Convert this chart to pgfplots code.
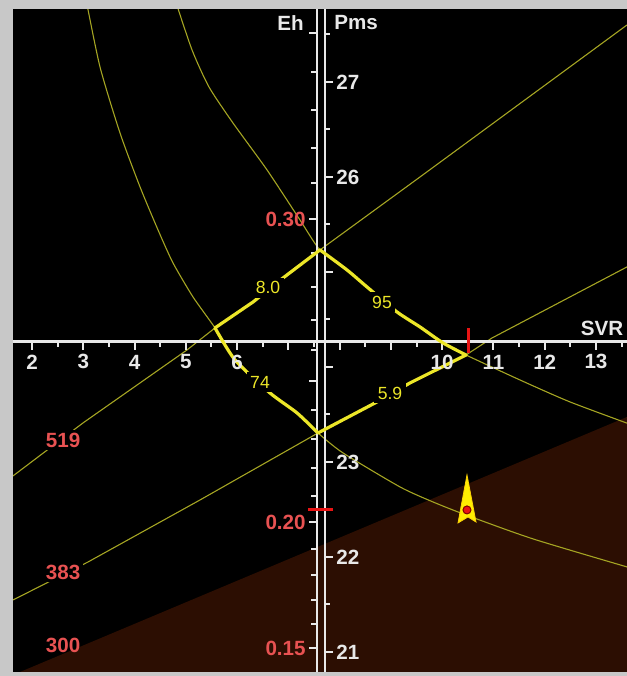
\documentclass[border=0pt]{standalone}
\usepackage{pgfplots}
\pgfplotsset{compat=1.18}
\usepackage{fontspec}
\setmainfont{Liberation Sans}
\definecolor{bordergray}{RGB}{200,200,200}
\definecolor{brownfill}{RGB}{44,14,2}
\definecolor{thinyel}{RGB}{165,165,35}
\definecolor{diayel}{RGB}{236,230,40}
\definecolor{ehred}{RGB}{232,82,82}
\definecolor{axwhite}{RGB}{232,232,232}
\definecolor{mkred}{RGB}{232,20,20}
\tikzset{
  lbl/.style={font=\fontsize{10.3}{12}\selectfont\bfseries, text=axwhite, inner sep=0pt},
  rlbl/.style={font=\fontsize{10.3}{12}\selectfont\bfseries, text=ehred, inner sep=0pt},
  dlbl/.style={font=\fontsize{8.8}{10}\selectfont, text=diayel, fill=black, inner sep=1.8pt},
}
\begin{document}
\begin{tikzpicture}
\fill[bordergray] (-6.5pt,-2pt) rectangle (307pt,336pt);
\begin{axis}[
  scale only axis, width=307pt, height=331.5pt,
  xmin=1.629, xmax=13.605, ymin=20.789, ymax=27.768,
  axis background/.style={fill=black},
  axis line style={draw=none},
  xtick=\empty, ytick=\empty,
]
% brown region
\addplot[draw=none, fill=brownfill] coordinates {(1.629,20.758) (13.605,23.474) (13.605,20.6) (1.629,20.6)} --cycle;
% thin iso-curves
\addplot[thinyel, line width=0.55pt, smooth, tension=0.4] coordinates {(3.06,27.85)(3.326,27.158)(3.716,26.463)(4.107,25.895)(4.458,25.442)(4.750,25.095)(5.140,24.737)(5.569,24.411)(5.959,24.074)(6.642,23.726)(7.169,23.516)(7.578,23.305)(8.066,23.095)(9.178,22.737)(9.821,22.579)(10.465,22.442)(11.772,22.19)(13.7,21.88)};
\addplot[thinyel, line width=0.55pt, smooth, tension=0.4] coordinates {(4.80,27.85)(5.121,27.337)(5.452,26.947)(5.920,26.568)(6.584,26.074)(7.227,25.547)(7.617,25.232)(8.144,25.021)(8.534,24.842)(9.119,24.579)(9.568,24.421)(10.016,24.253)(10.465,24.126)(11.518,23.863)(12.493,23.632)(13.7,23.39)};
\addplot[thinyel, line width=0.55pt] coordinates {(1.629,22.853)(2.995,23.411)(4.107,23.832)(5.023,24.179)(5.569,24.411)(6.311,24.684)(6.896,24.937)(7.617,25.232)(9.568,26.0)(13.605,27.6)};
\addplot[thinyel, line width=0.55pt] coordinates {(1.629,21.547)(3.092,21.947)(5.277,22.6)(7.578,23.305)(8.729,23.632)(9.373,23.832)(10.465,24.126)(10.972,24.305)(13.605,25.053)};
% axes
\draw[axwhite, line width=1.5pt] (axis cs:1.5,24.263) -- (axis cs:13.8,24.263);
\draw[axwhite, line width=1.4pt] (axis cs:7.559,20.6) -- (axis cs:7.559,28);
\draw[axwhite, line width=1.4pt] (axis cs:7.715,20.6) -- (axis cs:7.715,28);
% SVR ticks
\pgfplotsinvokeforeach{2,3,4,5,6,7,8,9,10,11,12,13}{\draw[axwhite, line width=1pt] (axis cs:#1,24.263) -- ([yshift=-4pt]axis cs:#1,24.263);}
\pgfplotsinvokeforeach{2.5,3.5,4.5,5.5,6.5,7.5,8.5,9.5,10.5,11.5,12.5,13.5}{\draw[axwhite, line width=1pt] (axis cs:#1,24.263) -- ([yshift=-2.5pt]axis cs:#1,24.263);}
% Pms ticks
\pgfplotsinvokeforeach{21,22,23,24,25,26,27}{\draw[axwhite, line width=1pt] (axis cs:7.715,#1) -- ([xshift=4pt]axis cs:7.715,#1);}
\pgfplotsinvokeforeach{21.5,22.5,23.5,24.5,25.5,26.5,27.5}{\draw[axwhite, line width=1pt] (axis cs:7.715,#1) -- ([xshift=2.5pt]axis cs:7.715,#1);}
% Eh ticks
\pgfplotsinvokeforeach{21.042,22.368,23.853,25.558,27.516}{\draw[axwhite, line width=1pt] (axis cs:7.559,#1) -- ([xshift=-4pt]axis cs:7.559,#1);}
\pgfplotsinvokeforeach{21.295,21.547,21.811,22.084,22.642,22.937,23.242,23.547,24.179,24.495,24.842,25.2,25.937,26.305,26.705,27.105}{\draw[axwhite, line width=1pt] (axis cs:7.559,#1) -- ([xshift=-2.8pt]axis cs:7.559,#1);}
% diamond
\addplot[diayel, line width=1.6pt, line cap=round] coordinates {(5.569,24.411)(6.311,24.684)(6.896,24.937)(7.617,25.232)};
\addplot[diayel, line width=1.6pt, line cap=round, smooth, tension=0.4] coordinates {(7.617,25.232)(8.144,25.021)(8.534,24.842)(9.119,24.579)(9.568,24.421)(10.016,24.253)(10.465,24.126)};
\addplot[diayel, line width=1.6pt, line cap=round] coordinates {(10.465,24.126)(9.373,23.832)(8.729,23.632)(7.578,23.305)};
\addplot[diayel, line width=1.6pt, line cap=round, smooth, tension=0.4] coordinates {(7.578,23.305)(7.169,23.516)(6.642,23.726)(5.959,24.074)(5.569,24.411)};
\node[dlbl] at (axis cs:6.603,24.832) {8.0};
\node[dlbl] at (axis cs:8.827,24.684) {95};
\node[dlbl] at (axis cs:6.447,23.842) {74};
\node[dlbl] at (axis cs:8.983,23.726) {5.9};
% red markers
\addplot[mkred, line width=1.5pt] coordinates {(10.504,24.147)(10.504,24.411)};
\addplot[mkred, line width=1.5pt] coordinates {(7.383,22.495)(7.871,22.495)};
% yellow arrow marker
\addplot[fill=yellow!95!orange, draw=yellow!70!orange, line width=0.4pt] coordinates {(10.484,22.863)(10.660,22.368)(10.504,22.421)(10.309,22.358)} --cycle;
\addplot[only marks, mark=*, mark size=2pt, mark options={fill=mkred, draw=black!50!red, line width=0.5pt}] coordinates {(10.484,22.495)};
% tick labels
\pgfplotsinvokeforeach{2,3,4,5,6,10,11,12,13}{\node[lbl] at (axis cs:#1,24.053) {#1};}
\node[lbl] at (axis cs:13.118,24.411) {SVR};
\node[lbl, anchor=west] at (axis cs:7.929,27) {27};
\node[lbl, anchor=west] at (axis cs:7.929,26) {26};
\node[lbl, anchor=west] at (axis cs:7.929,23) {23};
\node[lbl, anchor=west] at (axis cs:7.929,22) {22};
\node[lbl, anchor=west] at (axis cs:7.929,21) {21};
\node[lbl, anchor=west] at (axis cs:7.890,27.621) {Pms};
\node[lbl, anchor=east] at (axis cs:7.305,27.621) {Eh};
\node[rlbl, anchor=east] at (axis cs:7.344,25.558) {0.30};
\node[rlbl, anchor=east] at (axis cs:7.344,22.368) {0.20};
\node[rlbl, anchor=east] at (axis cs:7.344,21.042) {0.15};
\node[rlbl, fill=black, inner sep=1.5pt] at (axis cs:2.605,23.232) {519};
\node[rlbl, fill=black, inner sep=1.5pt] at (axis cs:2.605,21.842) {383};
\node[rlbl] at (axis cs:2.605,21.074) {300};
\end{axis}
\end{tikzpicture}
\end{document}
